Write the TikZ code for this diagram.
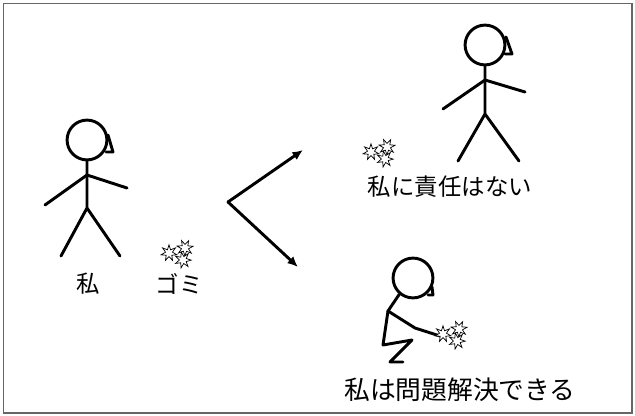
\documentclass[tikz,border=0pt]{standalone}
\usepackage{fontspec}
\setmainfont{Noto Sans CJK JP}
\usetikzlibrary{shapes.geometric,arrows.meta}

\tikzset{
  stick/.style={line width=2.5pt, line cap=round, line join=round},
  headc/.style={draw, circle, line width=2.5pt, minimum size=34pt, inner sep=0pt},
  trashstar/.style={star, star points=7, star point ratio=2.3, draw, fill=white,
    line width=0.6pt, minimum size=14pt, inner sep=0pt},
  gomi/.pic={
    \foreach \dx/\dy/\r [count=\i] in {-9/-1/0, 7/-6/25, 5/6/12}
      \node[trashstar, rotate=\r] (-s\i) at (\dx,\dy) {};
  },
  jtext/.style={font=\fontsize{20}{24}\selectfont},
}

\begin{document}
\begin{tikzpicture}[x=0.03cm, y=-0.03cm]
    \useasboundingbox (0,0) rectangle (635,416);
    \draw[black!60, line width=1.3pt](3.5,3.5)rectangle(632,413);

    % me, standing
    \node[headc](head1)at(87,140){};
    \draw[stick](head1.center)++(21,-5)--++(5,17)--++(-7,0);
    \draw[stick](head1.south)--(87,208)--(61,256) (87,208)--(120,256);
    \draw[stick](45,205)--(87,175)--(127,188);
    \node[jtext](me)at(88,284){私};

    % the litter
    \pic(trash1)at(178,254){gomi};
    \node[jtext](litter)at(179,284){ゴミ};

    % two ways
    \coordinate(fork)at(228,202);
    \coordinate(up)at(303,150);
    \coordinate(down)at(298,267);
    \draw[stick, -{Latex[length=9pt,width=8pt]}](fork)--(up);
    \draw[stick, -{Latex[length=9pt,width=8pt]}](fork)--(down);

    % walking past
    \node[headc](head2)at(485,45){};
    \draw[stick](head2.center)++(21,-8)--++(6,17)--++(-7,0);
    \draw[stick](head2.south)--(485,114)--(458,161) (485,114)--(519,161);
    \draw[stick](443,109)--(485,80)--(525,92);
    \pic(trash2)at(380,153){gomi};
    \node[jtext](notme)at(450,187){私に責任はない};

    % picking it up
    \node[headc](head3)at(413,278){};
    \draw[stick](head3.center)++(19,9)--++(1,8)--++(-5,0);
    \draw[stick](head3.230)--(388,311)--(415,328)--(440,336);
    \draw[stick](388,311)--(383,345)--(412,340)--(390,362)--(403,362);
    \pic(trash3)at(452,335){gomi};
    \node[jtext, font=\fontsize{22}{26}\selectfont](solve)at(460,390){私は問題解決できる};
\end{tikzpicture}
\end{document}
